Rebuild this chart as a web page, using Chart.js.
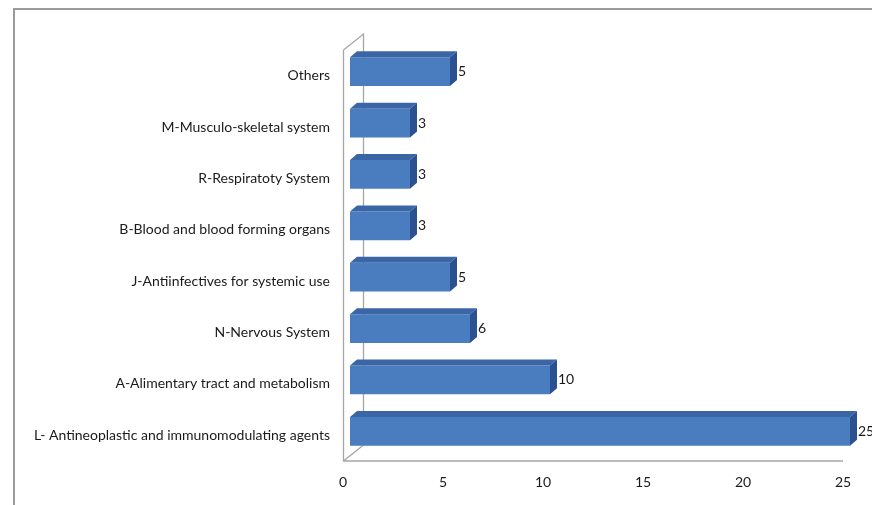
<!DOCTYPE html>
<html lang="en">
<head>
  <meta charset="UTF-8">
  <title>ATC groups</title>
  <script src="https://cdn.jsdelivr.net/npm/chart.js"></script>
  <style>
    body {
      margin: 0;
      background-color: white;
    }
    #wrap {
      width: 872px;
      height: 505px;
    }
  </style>
</head>
<body>

  <div id="wrap">
    <canvas id="atcChart" width="872" height="505"></canvas>
  </div>

  <script>
    // Kategoriler (ustten alta)
    const categories = [
      'Others',
      'M-Musculo-skeletal system',
      'R-Respiratoty System',
      'B-Blood and blood forming organs',
      'J-Antiinfectives for systemic use',
      'N-Nervous System',
      'A-Alimentary tract and metabolism',
      'L- Antineoplastic and immunomodulating agents'
    ];
    const counts = [5, 3, 3, 3, 5, 6, 10, 25];
    const xTicks = [0, 5, 10, 15, 20, 25];

    const FONT = 'Lato, "DejaVu Sans", sans-serif';
    const DX = 7, DY = 6;        // bar depth
    const SHIFT_X = 7, SHIFT_Y = -4; // bars sit a little inside the box
    const BOX_X = 20, BOX_Y = -16;   // depth of the back wall

    // 3B kutu, cerceve, cubuk yuzleri ve degerler
    const box3d = {
      id: 'box3d',
      beforeDraw(chart) {
        const c = chart.ctx;
        c.save();
        c.fillStyle = 'white';
        c.fillRect(0, 0, chart.width, chart.height);
        c.strokeStyle = '#9b9b9b';
        c.lineWidth = 2;
        c.beginPath();
        c.moveTo(14, chart.height);
        c.lineTo(14, 9);
        c.lineTo(chart.width, 9);
        c.stroke();
        c.restore();
      },
      beforeDatasetsDraw(chart) {
        const c = chart.ctx;
        const a = chart.chartArea;
        const x0 = Math.round(chart.scales.x.getPixelForValue(0)) + 0.5;
        const x1 = chart.scales.x.getPixelForValue(25);
        c.save();
        c.strokeStyle = '#a6a6a6';
        c.lineWidth = 1.3;
        c.beginPath();
        c.moveTo(x0, a.top);
        c.lineTo(x0, a.bottom);
        c.lineTo(x1, a.bottom);
        c.moveTo(x0, a.top);
        c.lineTo(x0 + BOX_X, a.top + BOX_Y);
        c.lineTo(x0 + BOX_X, a.bottom + BOX_Y);
        c.moveTo(x0, a.bottom);
        c.lineTo(x0 + BOX_X, a.bottom + BOX_Y);
        c.stroke();
        c.restore();
        c.save();
        c.translate(SHIFT_X, SHIFT_Y);
      },
      afterDatasetsDraw(chart) {
        const c = chart.ctx;
        const meta = chart.getDatasetMeta(0);
        meta.data.forEach((bar, i) => {
          const top = bar.y - bar.height / 2;
          const bottom = bar.y + bar.height / 2;
          // ust yuz
          c.fillStyle = '#3a66a6';
          c.beginPath();
          c.moveTo(bar.base, top);
          c.lineTo(bar.base + DX, top - DY);
          c.lineTo(bar.x + DX, top - DY);
          c.lineTo(bar.x, top);
          c.closePath();
          c.fill();
          // yan yuz
          c.fillStyle = '#2c5190';
          c.beginPath();
          c.moveTo(bar.x, top);
          c.lineTo(bar.x + DX, top - DY);
          c.lineTo(bar.x + DX, bottom - DY);
          c.lineTo(bar.x, bottom);
          c.closePath();
          c.fill();
          // deger
          c.fillStyle = '#1a1a1a';
          c.font = '14px ' + FONT;
          c.textAlign = 'left';
          c.textBaseline = 'middle';
          c.fillText(String(counts[i]), bar.x + DX + 1, bar.y);
        });
        c.restore();
      }
    };

    new Chart(document.getElementById('atcChart'), {
      type: 'bar',
      data: {
        labels: categories,
        datasets: [{
          data: counts,
          backgroundColor: '#4a7dc0',
          borderWidth: 0,
          categoryPercentage: 1,
          barPercentage: 0.56
        }]
      },
      options: {
        indexAxis: 'y',
        responsive: false,
        animation: false,
        layout: { padding: { left: 0, right: 29, top: 50, bottom: 0 } },
        plugins: {
          legend: { display: false },
          tooltip: { enabled: false }
        },
        scales: {
          x: {
            min: 0,
            max: 25,
            afterBuildTicks: s => { s.ticks = xTicks.map(v => ({ value: v })); },
            afterFit: s => { s.height = 44; },
            grid: { display: false, drawTicks: false },
            border: { display: false },
            ticks: { color: '#1a1a1a', font: { family: FONT, size: 14 }, padding: 13 }
          },
          y: {
            afterFit: s => { s.width = 343; },
            grid: { display: false, drawTicks: false },
            border: { display: false },
            ticks: { color: '#1a1a1a', font: { family: FONT, size: 14 }, padding: 13 }
          }
        }
      },
      plugins: [box3d]
    });
  </script>

</body>
</html>
